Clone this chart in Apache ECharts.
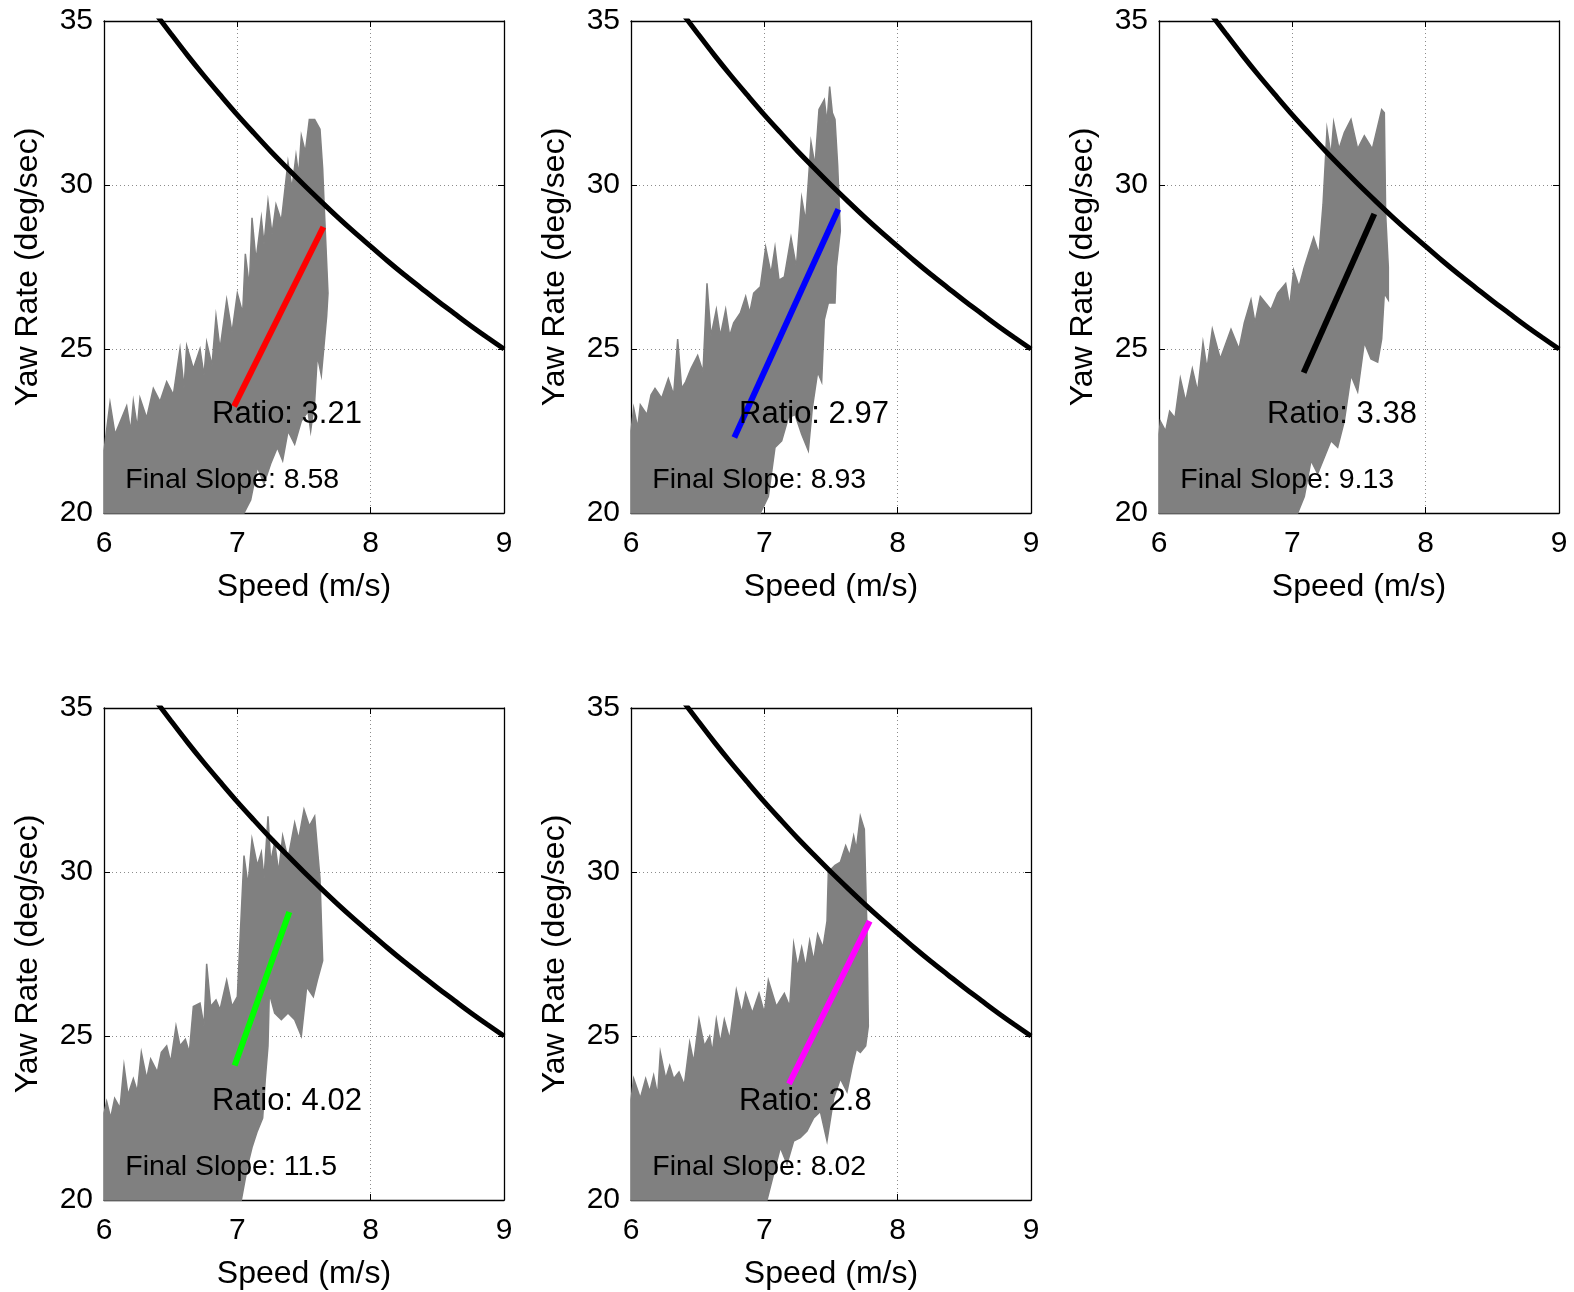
<!DOCTYPE html>
<html>
<head>
<meta charset="utf-8">
<script src="https://cdn.jsdelivr.net/npm/echarts@6/dist/echarts.min.js"></script>
<style>
  html, body { margin: 0; padding: 0; background: #fff; }
  #chart { width: 1574px; height: 1292px; }
</style>
</head>
<body>
<div id="chart"></div>
<script>
// ---------- DATA ----------
const xTicks = [6, 7, 8, 9];
const yTicks = [20, 25, 30, 35];

// limit curve (same in every panel)
const curveX = [6.375, 6.5, 6.625, 6.75, 6.875, 7, 7.125, 7.25, 7.375, 7.5, 7.625, 7.75, 7.875, 8, 8.125, 8.25, 8.375, 8.5, 8.625, 8.75, 8.875, 9];
const curveY = [35.29, 34.62, 33.96, 33.33, 32.73, 32.14, 31.58, 31.03, 30.51, 30.0, 29.51, 29.03, 28.57, 28.13, 27.69, 27.27, 26.87, 26.47, 26.09, 25.71, 25.35, 25.0];

// gray measured traces (outline of the scribble: upper edge left->right, lower edge right->left)
const p1GrayX = [6.00,6.045,6.083,6.17,6.20,6.22,6.25,6.27,6.32,6.37,6.42,6.47,6.52,6.57,6.60,6.62,6.67,6.72,6.75,6.77,6.81,6.84,6.87,6.92,6.96,7.00,7.04,7.06,7.09,7.11,7.14,7.18,7.20,7.23,7.26,7.29,7.33,7.38,7.41,7.44,7.46,7.48,7.51,7.54,7.58,7.62,7.64,7.65,7.68,
                 7.67,7.63,7.60,7.58,7.55,7.53,7.48,7.43,7.38,7.34,7.30,7.25,7.20,7.15,7.10,7.05,6.00];
const p1GrayY = [21.9,23.36,22.4,23.26,22.5,23.4,22.6,23.5,22.9,23.8,23.4,24.0,23.6,25.0,23.8,25.1,24.4,25.0,24.2,25.2,24.5,26.0,25.0,26.5,25.5,26.7,26.1,27.9,26.9,29.0,27.7,29.0,28.2,29.5,28.5,29.4,28.9,30.7,29.9,30.9,30.3,31.5,31.0,32.0,32.0,31.7,30.5,29.5,26.7,
                 26.0,24.2,24.8,23.4,22.5,23.1,22.8,22.1,22.5,21.6,22.0,21.5,20.9,21.4,20.4,20.0,20.0];

const p2GrayX = [6.00,6.02,6.05,6.07,6.12,6.15,6.18,6.23,6.28,6.32,6.35,6.38,6.41,6.45,6.50,6.54,6.57,6.60,6.64,6.67,6.71,6.74,6.77,6.82,6.86,6.89,6.92,6.97,7.01,7.05,7.08,7.11,7.15,7.20,7.24,7.28,7.31,7.35,7.38,7.41,7.45,7.47,7.49,7.51,7.53,7.55,7.57,
                 7.54,7.53,7.48,7.45,7.43,7.40,7.36,7.33,7.28,7.23,7.18,7.13,7.08,7.03,6.97,6.00];
const p2GrayY = [22.5,23.2,22.6,23.3,23.0,23.6,23.8,23.5,24.1,23.6,25.3,23.8,24.0,24.4,24.8,24.3,27.0,25.4,26.2,25.4,26.2,25.4,25.8,26.1,26.6,26.1,26.7,26.9,28.1,27.3,28.1,27.1,27.2,28.4,27.5,29.6,28.9,31.3,30.6,32.3,32.6,31.9,33.0,32.2,32.0,30.6,28.6,
                 27.5,26.4,26.4,25.9,24.0,24.3,23.2,21.9,22.4,23.0,22.9,22.2,22.0,20.5,20.0,20.0];

const p3GrayX = [6.00,6.01,6.05,6.08,6.12,6.16,6.20,6.25,6.29,6.33,6.36,6.40,6.46,6.54,6.60,6.64,6.69,6.72,6.76,6.84,6.89,6.95,6.98,7.01,7.05,7.09,7.16,7.20,7.23,7.26,7.29,7.31,7.35,7.39,7.44,7.49,7.54,7.60,7.67,7.69,7.70,7.72,
                 7.72,7.69,7.67,7.64,7.59,7.54,7.49,7.44,7.39,7.34,7.29,7.24,7.19,7.14,7.09,7.04,6.00];
const p3GrayY = [22.4,22.8,22.5,23.1,22.9,24.1,23.4,24.4,23.7,25.2,24.4,25.6,24.7,25.6,25.0,25.8,26.5,25.8,26.6,26.2,26.7,27.0,26.3,27.4,26.9,27.5,28.4,27.9,29.4,31.7,30.9,31.9,31.1,31.6,32.0,31.1,31.5,31.1,32.3,32.2,29.1,27.5,
                 26.5,26.7,25.3,24.6,24.7,25.2,23.7,24.2,22.8,22.0,22.2,21.7,21.2,21.6,20.5,20.0,20.0];

const p4GrayX = [6.00,6.02,6.05,6.08,6.12,6.15,6.18,6.22,6.25,6.28,6.32,6.35,6.40,6.43,6.47,6.50,6.54,6.57,6.61,6.64,6.67,6.72,6.75,6.77,6.80,6.84,6.87,6.92,6.96,7.00,7.05,7.08,7.11,7.15,7.18,7.20,7.23,7.25,7.28,7.31,7.34,7.38,7.43,7.46,7.50,7.54,7.58,7.62,7.64,
                 7.60,7.57,7.52,7.48,7.43,7.38,7.33,7.28,7.24,7.23,7.21,7.19,7.15,7.11,7.08,7.03,6.00];
const p4GrayY = [22.65,23.0,22.5,23.1,22.8,24.1,23.2,23.7,23.3,24.5,23.7,24.3,23.9,24.5,24.7,24.2,25.3,24.7,24.9,24.5,25.9,26.0,25.3,27.2,25.9,26.1,25.8,26.7,25.9,26.2,30.5,29.6,31.0,30.2,30.6,29.8,31.7,30.3,30.9,30.0,31.1,30.4,31.5,31.0,31.9,31.4,31.7,29.8,27.3,
                 26.7,26.2,26.5,25.0,25.5,25.7,25.5,25.7,26.3,24.7,23.7,22.5,22.1,21.6,21.1,20.0,20.0];

const p5GrayX = [6.00,6.02,6.07,6.11,6.14,6.17,6.20,6.22,6.26,6.29,6.32,6.36,6.40,6.44,6.47,6.51,6.55,6.59,6.61,6.64,6.67,6.70,6.74,6.79,6.83,6.86,6.91,6.96,7.00,7.03,7.09,7.15,7.19,7.22,7.25,7.28,7.31,7.34,7.37,7.40,7.44,7.47,7.48,7.53,7.57,7.61,7.64,7.67,7.69,7.72,7.75,7.77,
                 7.78,7.76,7.72,7.69,7.66,7.62,7.57,7.52,7.47,7.42,7.37,7.32,7.27,7.22,7.17,7.12,7.07,7.02,6.00];
const p5GrayY = [23.06,23.7,23.1,23.7,23.3,23.8,23.2,24.5,23.7,24.1,23.7,23.9,23.5,24.8,24.2,25.5,24.7,25.0,24.5,25.5,24.8,25.5,24.9,26.4,25.7,26.3,25.7,26.3,25.7,26.7,25.9,26.3,25.9,27.8,27.1,27.7,27.1,27.9,27.3,28.1,27.7,28.5,30.0,30.2,30.3,30.8,30.5,31.1,30.7,31.7,31.3,28.2,
                 25.3,24.7,24.5,24.6,24.1,23.3,23.7,23.1,21.8,22.7,22.5,22.1,21.9,21.8,21.1,21.6,20.8,20.0,20.0];

// fitted lines [start, end]
const p1FitX = [6.975, 7.645]; const p1FitY = [23.25, 28.72];
const p2FitX = [6.775, 7.555]; const p2FitY = [22.3, 29.26];
const p3FitX = [7.085, 7.615]; const p3FitY = [24.28, 29.12];
const p4FitX = [6.98, 7.39];   const p4FitY = [24.1, 28.78];
const p5FitX = [7.185, 7.79];  const p5FitY = [23.54, 28.5];

const ratioValues = ['3.21', '2.97', '3.38', '4.02', '2.8'];
const slopeValues = ['8.58', '8.93', '9.13', '11.5', '8.02'];

// ---------- LAYOUT / STYLE ----------
const grayXs = [p1GrayX, p2GrayX, p3GrayX, p4GrayX, p5GrayX];
const grayYs = [p1GrayY, p2GrayY, p3GrayY, p4GrayY, p5GrayY];
const fitXs = [p1FitX, p2FitX, p3FitX, p4FitX, p5FitX];
const fitYs = [p1FitY, p2FitY, p3FitY, p4FitY, p5FitY];
const fitColors = ['#ff0000', '#0000ff', '#000000', '#00ff00', '#ff00ff'];
const ratioAnchor = [6.81, 23.0];
const slopeAnchor = [6.16, 21.0];

const FONT = '"Liberation Sans", Arial, Helvetica, sans-serif';
const gridPos = [
  {left: 104, top: 21}, {left: 631, top: 21}, {left: 1159, top: 21},
  {left: 104, top: 708}, {left: 631, top: 708}
];
const W = 400, H = 492;

const grids = [], xAxes = [], yAxes = [], series = [];
const lineCol = '#000';
gridPos.forEach((g, i) => {
  grids.push({left: g.left, top: g.top, width: W, height: H, show: false});
  const common = {
    type: 'value', gridIndex: i,
    axisLine: {show: true, onZero: false, lineStyle: {color: lineCol, width: 1.3}},
    axisTick: {show: true, inside: true, length: 6, lineStyle: {color: lineCol, width: 1}},
  };
  xAxes.push(Object.assign({}, common, {
    min: xTicks[0], max: xTicks[xTicks.length - 1], interval: 1, position: 'bottom',
    axisLabel: {show: true, color: '#000', fontSize: 30, fontFamily: FONT, margin: 16},
    splitLine: {show: true, lineStyle: {color: '#8c8c8c', width: 1, type: [1, 3]}},
    name: 'Speed (m/s)', nameLocation: 'middle', nameGap: 58,
    nameTextStyle: {color: '#000', fontSize: 32, fontFamily: FONT}
  }));
  xAxes.push(Object.assign({}, common, {
    min: xTicks[0], max: xTicks[xTicks.length - 1], interval: 1, position: 'top',
    axisLabel: {show: false}, splitLine: {show: false}
  }));
  yAxes.push(Object.assign({}, common, {
    min: yTicks[0], max: yTicks[yTicks.length - 1], interval: 5, position: 'left',
    axisLabel: {show: true, color: '#000', fontSize: 30, fontFamily: FONT, margin: 11},
    splitLine: {show: true, lineStyle: {color: '#8c8c8c', width: 1, type: [1, 3]}},
    name: 'Yaw Rate (deg/sec)', nameLocation: 'middle', nameGap: 60,
    nameTextStyle: {color: '#000', fontSize: 32, fontFamily: FONT}
  }));
  yAxes.push(Object.assign({}, common, {
    min: yTicks[0], max: yTicks[yTicks.length - 1], interval: 5, position: 'right',
    axisLabel: {show: false}, splitLine: {show: false}
  }));

  const xi = 2 * i, yi = 2 * i;
  const gx = grayXs[i], gy = grayYs[i];
  // gray measured data
  series.push({
    type: 'custom', xAxisIndex: xi, yAxisIndex: yi, silent: true, z: 1,
    data: gx.map((x, k) => [x, gy[k]]),
    renderItem: function (params, api) {
      if (params.dataIndexInside !== 0) return null;
      const pts = [];
      for (let k = 0; k < gx.length; k++) {
        pts.push(api.coord([api.value(0, k), api.value(1, k)]));
      }
      return {
        type: 'polygon', shape: {points: pts},
        style: {fill: '#808080', stroke: '#808080', lineWidth: 1.5, lineJoin: 'miter'}
      };
    }
  });
  // limit curve
  series.push({
    type: 'line', xAxisIndex: xi, yAxisIndex: yi, z: 3, silent: true,
    data: curveX.map((x, k) => [x, curveY[k]]),
    smooth: 0.3, symbol: 'none', clip: true,
    lineStyle: {color: '#000', width: 5}
  });
  // fitted line
  const fx = fitXs[i], fy = fitYs[i];
  series.push({
    type: 'line', xAxisIndex: xi, yAxisIndex: yi, z: 4, silent: true,
    data: fx.map((x, k) => [x, fy[k]]),
    symbol: 'none', lineStyle: {color: fitColors[i], width: 6, cap: 'butt'}
  });
  // annotations
  const texts = ['Ratio: ' + ratioValues[i], 'Final Slope: ' + slopeValues[i]];
  const sizes = [31, 28.5];
  series.push({
    type: 'custom', xAxisIndex: xi, yAxisIndex: yi, z: 6, silent: true,
    data: [ratioAnchor, slopeAnchor],
    renderItem: function (params, api) {
      const p = api.coord([api.value(0), api.value(1)]);
      const k = params.dataIndexInside;
      return {
        type: 'text', x: p[0], y: p[1],
        style: {
          text: texts[k], fill: '#000', fontSize: sizes[k], fontFamily: FONT,
          align: 'left', verticalAlign: 'middle',
          textAlign: 'left', textVerticalAlign: 'middle'
        }
      };
    }
  });
});

const chart = echarts.init(document.getElementById('chart'), null, {renderer: 'canvas'});
chart.setOption({
  animation: false,
  backgroundColor: '#fff',
  grid: grids, xAxis: xAxes, yAxis: yAxes, series: series
});
</script>
</body>
</html>
